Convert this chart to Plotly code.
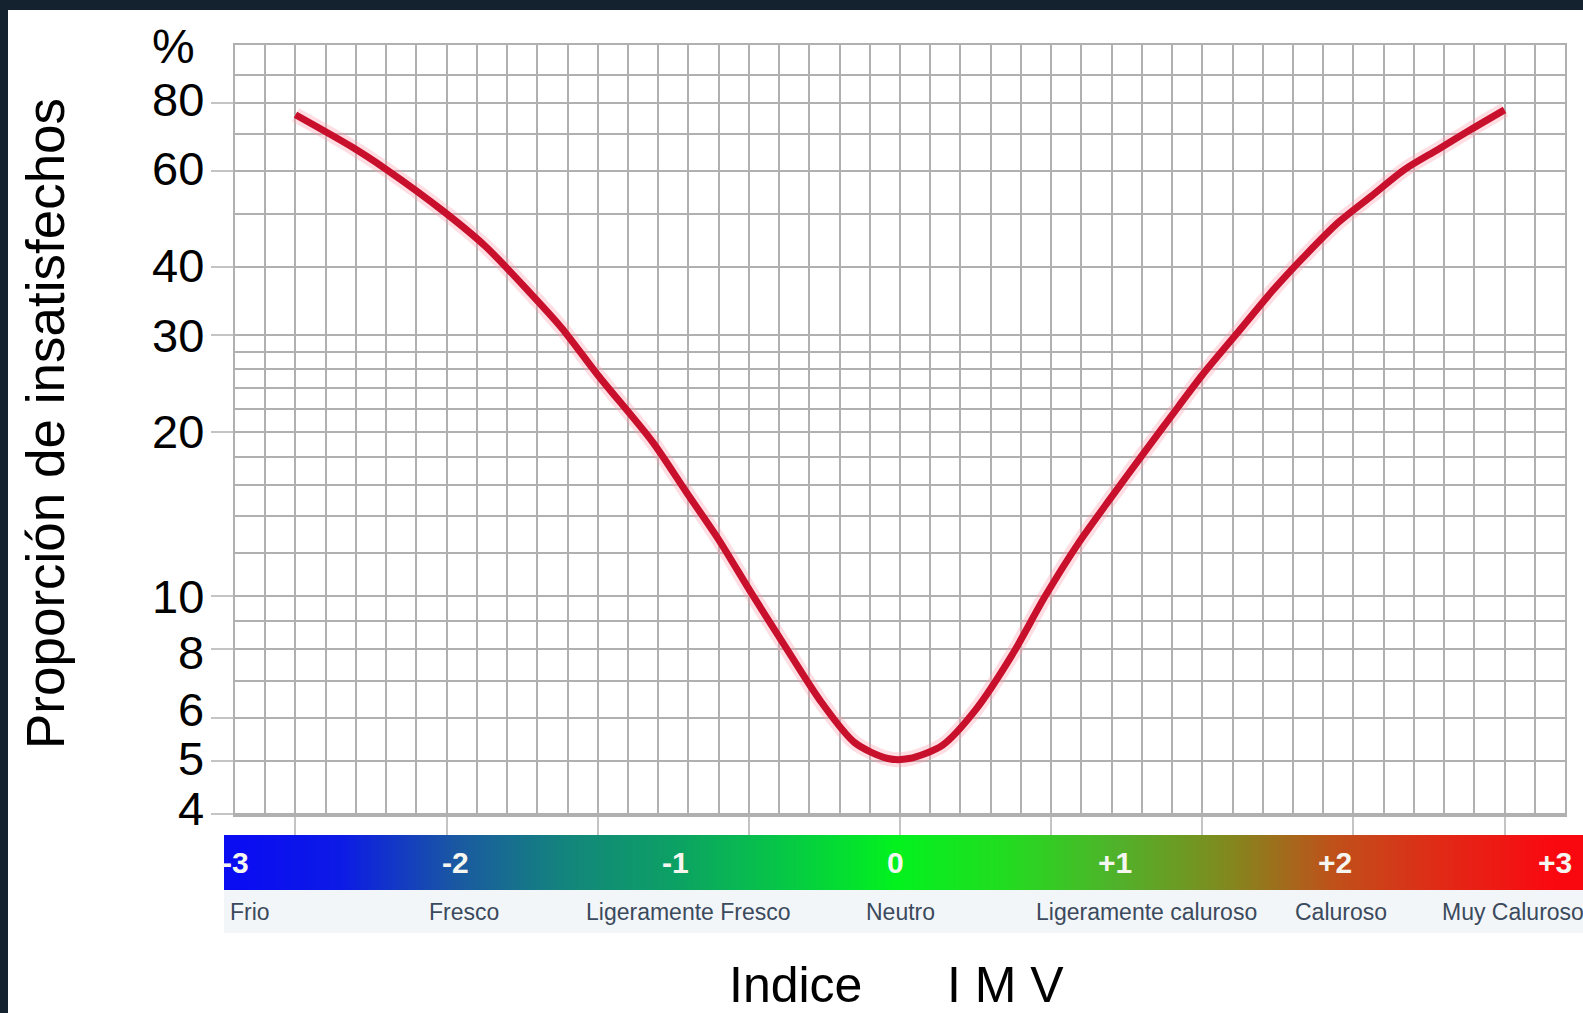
import math
import plotly.graph_objects as go

# ---------------- data ----------------
pmv = [-2.0, -1.81, -1.70, -1.51, -1.37, -1.23, -1.12, -1.0, -0.82, -0.71, -0.60,
       -0.49, -0.38, -0.26, -0.15, -0.04, 0.03, 0.14, 0.25, 0.37, 0.48, 0.59,
       0.70, 0.81, 0.92, 1.0, 1.12, 1.23, 1.34, 1.45, 1.56, 1.67, 1.78, 1.89, 2.0]
ppd = [76.0, 66.2, 60.4, 50.6, 43.6, 36.2, 31.0, 25.4, 19.2, 15.6, 12.7,
       10.1, 8.1, 6.4, 5.4, 5.05, 5.05, 5.34, 6.2, 7.8, 10.0, 12.5,
       15.2, 18.4, 22.2, 25.4, 30.5, 36.1, 42.0, 48.3, 54.0, 60.4, 65.7, 71.5, 77.6]

y_tick_vals = [4, 5, 6, 8, 10, 20, 30, 40, 60, 80]
y_minor_vals = [7, 9, 12, 14, 16, 18, 22, 24, 26, 28, 50, 70, 90]
x_tick_vals = [-2, -1.5, -1, -0.5, 0, 0.5, 1, 1.5, 2]

scale_vals = [-3, -2, -1, 0, 1, 2, 3]
scale_text = ['-3', '-2', '-1', '0', '+1', '+2', '+3']
scale_names = ['Frio', 'Fresco', 'Ligeramente Fresco', 'Neutro',
               'Ligeramente caluroso', 'Caluroso', 'Muy Caluroso']

# ---------------- layout helpers (pixel geometry) ----------------
W, H = 1583, 1013
L, R, T, B = 224, 1583, 45, 933          # full plotting region (incl. colour scale)
PW, PH = R - L, B - T
def px(x):  return (x - L) / PW
def py(y):  return (B - y) / PH

# small vertical nudges of the y tick labels (pixels, up = positive)
ylabel_shift = [5, 2, 8, -3, 0, 0, 0, 2, 2, 3]
# anchor / pixel shift of the descriptive labels under the colour scale
name_anchor = ['left', 'center', 'center', 'center', 'center', 'center', 'left']
name_shift = [4, 9, 13, 5, 31, 6, -115]

grid_col = '#b0b0b0'
regular = 'Liberation Sans, Arial, sans-serif'

fig = go.Figure()

# colour scale bar
fig.add_trace(go.Heatmap(
    x=scale_vals, y=[0], z=[scale_vals], zmin=-3, zmax=3, zsmooth='best',
    colorscale=[[0.00, '#0a0cf2'], [0.08, '#0c1ae6'], [1/6, '#1a58a2'],
                [0.25, '#13857c'], [2/6, '#0ca164'], [5/12, '#06c845'],
                [0.50, '#02f21e'], [7/12, '#22dc20'], [4/6, '#50b22a'],
                [0.75, '#808a1e'], [5/6, '#c0501a'], [11/12, '#e22816'],
                [1.00, '#fa0810']],
    showscale=False, hoverinfo='skip', xaxis='x2', yaxis='y2'))

# curve: soft halo + main line
fig.add_trace(go.Scatter(x=pmv, y=ppd, mode='lines', line_shape='spline',
                         line=dict(color='rgba(255,160,175,0.35)', width=15, smoothing=0.8),
                         hoverinfo='skip', showlegend=False))
fig.add_trace(go.Scatter(x=pmv, y=ppd, mode='lines', line_shape='spline',
                         line=dict(color='#c80f2c', width=7, smoothing=0.8), showlegend=False))

annotations = []
# y tick labels
for v, s in zip(y_tick_vals, ylabel_shift):
    annotations.append(dict(x=px(205), y=math.log10(v), xref='paper', yref='y', text=str(v),
                            showarrow=False, xanchor='right', yanchor='middle', yshift=s,
                            borderpad=0,
                            font=dict(family=regular, size=47, color='#000000')))
for v, t in zip(scale_vals, scale_text):
    annotations.append(dict(x=v, y=0, xref='x2', yref='y2', text=t, showarrow=False,
                            font=dict(family=regular, size=30, color='#f6f6f0', weight='bold'),
                            xanchor='center', yanchor='middle'))
for v, t, a, s in zip(scale_vals, scale_names, name_anchor, name_shift):
    xx = -3.05 if (a == 'left' and v < 0) else v
    annotations.append(dict(x=xx, y=py(912), xref='x2', yref='paper', text=t,
                            showarrow=False, xanchor=a, xshift=s, yanchor='middle',
                            font=dict(family=regular, size=23, color='#3b4a5c')))
annotations += [
    dict(x=px(45), y=py(424), xref='paper', yref='paper', text='Proporción de insatisfechos',
         textangle=-90, showarrow=False, xanchor='center', yanchor='middle',
         font=dict(family=regular, size=53, color='#000000')),
    dict(x=px(173), y=py(47), xref='paper', yref='paper', text='%', showarrow=False,
         xanchor='center', yanchor='middle', font=dict(family=regular, size=48, color='#000000')),
    dict(x=px(795), y=py(985), xref='paper', yref='paper', text='Indice', showarrow=False,
         xanchor='center', yanchor='middle', font=dict(family=regular, size=50, color='#000000')),
    dict(x=px(1005), y=py(985), xref='paper', yref='paper', text='I M V', showarrow=False,
         xanchor='center', yanchor='middle', font=dict(family=regular, size=50, color='#000000')),
]

shapes = [
    # pale band behind descriptive labels
    dict(type='rect', xref='paper', yref='paper', x0=0, x1=1, y0=py(933), y1=py(890),
         fillcolor='#f3f6f9', line_width=0, layer='below'),
    # dark frame top / left
    dict(type='rect', xref='paper', yref='paper', x0=px(0), x1=px(W), y0=py(10), y1=py(0),
         fillcolor='#14212f', line_width=0),
    dict(type='rect', xref='paper', yref='paper', x0=px(0), x1=px(8), y0=py(H), y1=py(0),
         fillcolor='#14212f', line_width=0),
]

fig.update_layout(
    width=W, height=H,
    margin=dict(l=L, r=W - R, t=T, b=H - B, pad=0),
    paper_bgcolor='white', plot_bgcolor='white', showlegend=False,
    xaxis=dict(domain=[px(235), px(1565)], anchor='y', range=[-2.2, 2.2],
               tickvals=x_tick_vals, ticks='outside', ticklen=18, tickwidth=2,
               tickcolor='#c4c4c4', showticklabels=False,
               showgrid=True, gridcolor=grid_col, gridwidth=2, zeroline=False,
               minor=dict(tickmode='linear', tick0=0, dtick=0.1, showgrid=True,
                          gridcolor=grid_col, gridwidth=2, ticks=''),
               showline=True, mirror=True, linecolor=grid_col, linewidth=2),
    yaxis=dict(domain=[py(815), 1], anchor='x', type='log', range=[0.600, 2.0085],
               tickvals=y_tick_vals, showticklabels=False,
               ticks='outside', ticklen=22, tickwidth=2, tickcolor='#c4c4c4',
               showgrid=True, gridcolor=grid_col, gridwidth=2, zeroline=False,
               minor=dict(tickvals=y_minor_vals, showgrid=True, gridcolor=grid_col,
                          gridwidth=2, ticks=''),
               showline=True, mirror=True, linecolor=grid_col, linewidth=2),
    xaxis2=dict(domain=[0, 1], anchor='y2', range=[-3.05, 3.127], visible=False),
    yaxis2=dict(domain=[py(890), py(835)], anchor='x2', range=[-0.5, 0.5], visible=False),
    annotations=annotations, shapes=shapes,
)

fig.write_html('out.html', config={'displayModeBar': False},
               post_script="document.body.style.margin='0';document.body.style.overflow='hidden';")
